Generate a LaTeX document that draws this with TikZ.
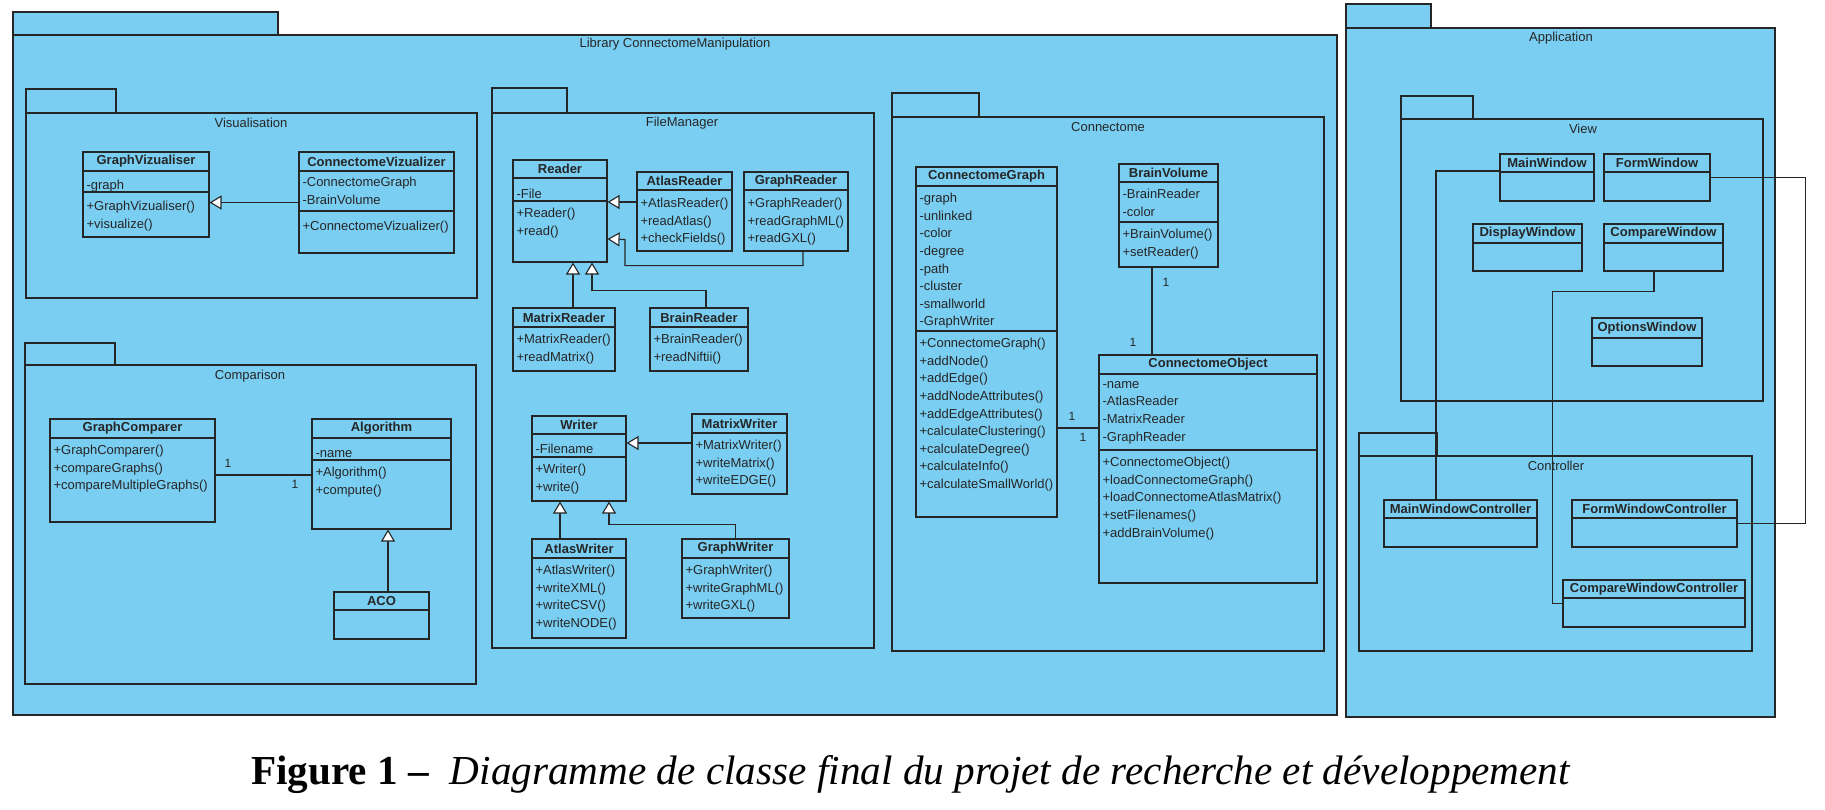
\documentclass[tikz,border=0pt]{standalone}
\usepackage{fontspec}
\usepackage{xcolor}
\usepackage{tikz}
\usetikzlibrary{arrows.meta,fit}
\newfontfamily\umlfont{Liberation Sans}
\newfontfamily\capfont{Liberation Serif}
\definecolor{pkgblue}{RGB}{122,206,242}
\definecolor{umlline}{RGB}{38,38,38}

\begin{document}
\begin{tikzpicture}[x=1pt,y=-1pt,line width=1.1pt,color=umlline,
  pkg/.style={draw,fill=pkgblue,inner sep=0pt},
  cls/.style={draw,fill=pkgblue,inner sep=0pt},
  ttl/.style={inner sep=0pt,font=\umlfont\bfseries\fontsize{13}{16}\selectfont},
  txt/.style={anchor=north west,align=left,inner sep=0pt,yshift=-3pt,font=\umlfont\fontsize{13}{17.6}\selectfont,execute at begin node=\strut},
  lbl/.style={inner sep=0pt,font=\umlfont\fontsize{13}{16}\selectfont},
  mult/.style={inner sep=0pt,font=\umlfont\fontsize{12}{14}\selectfont},
  inh/.style={-{Triangle[fill=white,length=12pt,width=14pt]}}]
\fill[white] (0,0) rectangle (1825,809);
\useasboundingbox (0,0) rectangle (1825,809);

\node[pkg,fit={(13,12) (278,35)}] (lib-tab) {};
\node[pkg,fit={(13,35) (1337,715)}] (lib) {};
\node[lbl] (lib-l) at (675,44) {Library ConnectomeManipulation};

\node[pkg,fit={(26,89) (116,113)}] (vis-tab) {};
\node[pkg,fit={(26,113) (477,298)}] (vis) {};
\node[lbl] (vis-l) at (251,123) {Visualisation};
\node[cls,fit={(83,152) (209,237)}] (gviz) {};
\draw (83,171) -- (209,171) (83,192) -- (209,192);
\node[ttl] (gviz-t) at (146,161.5) {GraphVizualiser};
\node[txt] (gviz-a) at (86,173.5) {-graph};
\node[txt] (gviz-m) at (86,198) {+GraphVizualiser()\\+visualize()};
\node[cls,fit={(299,152) (454,253)}] (cviz) {};
\draw (299,171) -- (454,171) (299,211) -- (454,211);
\node[ttl] (cviz-t) at (376.5,161.5) {ConnectomeVizualizer};
\node[txt] (cviz-a) at (302,173.5) {-ConnectomeGraph\\-BrainVolume};
\node[txt] (cviz-m) at (302,214.7) {+ConnectomeVizualizer()};
\draw[inh] (cviz.west) -- (gviz.east |- cviz.west);

\node[pkg,fit={(25,343) (115,365)}] (cmp-tab) {};
\node[pkg,fit={(25,365) (476,684)}] (cmp) {};
\node[lbl] (cmp-l) at (250,376) {Comparison};
\node[cls,fit={(50,419) (215,522)}] (gcomp) {};
\draw (50,438) -- (215,438);
\node[ttl] (gcomp-t) at (132.5,428.5) {GraphComparer};
\node[txt] (gcomp-m) at (53,441.7) {+GraphComparer()\\+compareGraphs()\\+compareMultipleGraphs()};
\node[cls,fit={(312,419) (451,529)}] (algo) {};
\draw (312,438) -- (451,438) (312,460) -- (451,460);
\node[ttl] (algo-t) at (381.5,428.5) {Algorithm};
\node[txt] (algo-a) at (315,441.7) {-name};
\node[txt] (algo-m) at (315,463.7) {+Algorithm()\\+compute()};
\node[cls,fit={(334,592) (429,639)}] (aco) {};
\draw (334,610) -- (429,610);
\node[ttl] (aco-t) at (381.5,601) {ACO};
\draw ([yshift=-4.5pt]gcomp.east) -- ([yshift=-4.5pt]gcomp.east -| algo.west);
\node[mult] (m1) at (228,463) {1};
\node[mult] (m2) at (295,484) {1};
\draw[inh] ([xshift=6.5pt]aco.north) -- ([xshift=6.5pt]aco.north |- algo.south);

\node[pkg,fit={(492,88) (567,113)}] (fm-tab) {};
\node[pkg,fit={(492,113) (874,648)}] (fm) {};
\node[lbl] (fm-l) at (682,123) {FileManager};
\node[cls,fit={(513,160) (607,262)}] (reader) {};
\draw (513,178) -- (607,178) (513,201) -- (607,201);
\node[ttl] (reader-t) at (560,169) {Reader};
\node[txt] (reader-a) at (516,182.7) {-File};
\node[txt] (reader-m) at (516,204.7) {+Reader()\\+read()};
\node[cls,fit={(637,172) (732,251)}] (areader) {};
\draw (637,190) -- (732,190);
\node[ttl] (areader-t) at (684.5,181) {AtlasReader};
\node[txt] (areader-m) at (640,194.7) {+AtlasReader()\\+readAtlas()\\+checkFields()};
\node[cls,fit={(744,172) (848,251)}] (greader) {};
\draw (744,190) -- (848,190);
\node[ttl] (greader-t) at (796,181) {GraphReader};
\node[txt] (greader-m) at (747,194.7) {+GraphReader()\\+readGraphML()\\+readGXL()};
\node[cls,fit={(513,308) (615,371)}] (mreader) {};
\draw (513,327) -- (615,327);
\node[ttl] (mreader-t) at (564,317.5) {MatrixReader};
\node[txt] (mreader-m) at (516,330.7) {+MatrixReader()\\+readMatrix()};
\node[cls,fit={(650,308) (748,371)}] (breader) {};
\draw (650,327) -- (748,327);
\node[ttl] (breader-t) at (699,317.5) {BrainReader};
\node[txt] (breader-m) at (653,330.7) {+BrainReader()\\+readNiftii()};
\draw[inh] ([yshift=9.5pt]areader.west) -- ([yshift=9.5pt]areader.west -| reader.east);
\draw[inh] ([xshift=7pt]greader.south) -- ++(0,14) -| ++(-178,-26) -- ([yshift=-28pt]reader.east);
\draw[inh] ([xshift=9pt]mreader.north) -- ([xshift=9pt]mreader.north |- reader.south);
\draw[inh] ([xshift=7pt]breader.north) -- ++(0,-17) -| ([xshift=32pt]reader.south);

\node[cls,fit={(532,416) (626,501)}] (writer) {};
\draw (532,434) -- (626,434) (532,457) -- (626,457);
\node[ttl] (writer-t) at (579,425) {Writer};
\node[txt] (writer-a) at (535,437.7) {-Filename};
\node[txt] (writer-m) at (535,460.7) {+Writer()\\+write()};
\node[cls,fit={(692,414) (787,494)}] (mwriter) {};
\draw (692,433) -- (787,433);
\node[ttl] (mwriter-t) at (739.5,423.5) {MatrixWriter};
\node[txt] (mwriter-m) at (695,436.7) {+MatrixWriter()\\+writeMatrix()\\+writeEDGE()};
\node[cls,fit={(532,539) (626,638)}] (awriter) {};
\draw (532,558) -- (626,558);
\node[ttl] (awriter-t) at (579,548.5) {AtlasWriter};
\node[txt] (awriter-m) at (535,561.7) {+AtlasWriter()\\+writeXML()\\+writeCSV()\\+writeNODE()};
\node[cls,fit={(682,539) (789,618)}] (gwriter) {};
\draw (682,558) -- (789,558);
\node[ttl] (gwriter-t) at (735.5,548.5) {GraphWriter};
\node[txt] (gwriter-m) at (685,561.7) {+GraphWriter()\\+writeGraphML()\\+writeGXL()};
\draw[inh] ([yshift=11pt]mwriter.west) -- ([yshift=11pt]mwriter.west -| writer.east);
\draw[inh] ([xshift=-19pt]awriter.north) -- ([xshift=-19pt]awriter.north |- writer.south);
\draw[inh] (gwriter.north) -- ++(0,-14) -| ([xshift=30pt]writer.south);

\node[pkg,fit={(892,93) (979,117)}] (con-tab) {};
\node[pkg,fit={(892,117) (1324,651)}] (con) {};
\node[lbl] (con-l) at (1108,127) {Connectome};
\node[cls,fit={(916,167) (1057,517)}] (cgraph) {};
\draw (916,186) -- (1057,186) (916,331) -- (1057,331);
\node[ttl] (cgraph-t) at (986.5,176.5) {ConnectomeGraph};
\node[txt] (cgraph-a) at (919,189.7) {-graph\\-unlinked\\-color\\-degree\\-path\\-cluster\\-smallworld\\-GraphWriter};
\node[txt] (cgraph-m) at (919,334.7) {+ConnectomeGraph()\\+addNode()\\+addEdge()\\+addNodeAttributes()\\+addEdgeAttributes()\\+calculateClustering()\\+calculateDegree()\\+calculateInfo()\\+calculateSmallWorld()};
\node[cls,fit={(1119,164) (1218,267)}] (bvol) {};
\draw (1119,182) -- (1218,182) (1119,222) -- (1218,222);
\node[ttl] (bvol-t) at (1168.5,173) {BrainVolume};
\node[txt] (bvol-a) at (1122,185.7) {-BrainReader\\-color};
\node[txt] (bvol-m) at (1122,225.7) {+BrainVolume()\\+setReader()};
\node[cls,fit={(1099,355) (1317,583)}] (cobj) {};
\draw (1099,374) -- (1317,374) (1099,450) -- (1317,450);
\node[ttl] (cobj-t) at (1208,364.5) {ConnectomeObject};
\node[txt] (cobj-a) at (1102,377.7) {-name\\-AtlasReader\\-MatrixReader\\-GraphReader};
\node[txt] (cobj-m) at (1102,453.7) {+ConnectomeObject()\\+loadConnectomeGraph()\\+loadConnectomeAtlasMatrix()\\+setFilenames()\\+addBrainVolume()};
\draw ([xshift=-16.5pt]bvol.south) -- ([xshift=-16.5pt]bvol.south |- cobj.north);
\node[mult] (m3) at (1166,282) {1};
\node[mult] (m4) at (1133,342) {1};
\draw ([yshift=-86pt]cgraph.east) -- ([yshift=-86pt]cgraph.east -| cobj.west);
\node[mult] (m5) at (1072,416) {1};
\node[mult] (m6) at (1083,437) {1};

\node[pkg,fit={(1346,4) (1431,28)}] (app-tab) {};
\node[pkg,fit={(1346,28) (1775,717)}] (app) {};
\node[lbl] (app-l) at (1561,38) {Application};
\node[pkg,fit={(1401,96) (1473,119)}] (view-tab) {};
\node[pkg,fit={(1401,119) (1763,401)}] (view) {};
\node[lbl] (view-l) at (1583,129) {View};
\node[cls,fit={(1500,154) (1594,201)}] (mainw) {};
\draw (1500,172) -- (1594,172);
\node[ttl] (mainw-t) at (1547,163) {MainWindow};
\node[cls,fit={(1604,154) (1710,201)}] (formw) {};
\draw (1604,172) -- (1710,172);
\node[ttl] (formw-t) at (1657,163) {FormWindow};
\node[cls,fit={(1473,224) (1582,271)}] (dispw) {};
\draw (1473,243) -- (1582,243);
\node[ttl] (dispw-t) at (1527.5,233.5) {DisplayWindow};
\node[cls,fit={(1604,224) (1723,271)}] (compw) {};
\draw (1604,243) -- (1723,243);
\node[ttl] (compw-t) at (1663.5,233.5) {CompareWindow};
\node[cls,fit={(1592,318) (1702,366)}] (optw) {};
\draw (1592,338) -- (1702,338);
\node[ttl] (optw-t) at (1647,328) {OptionsWindow};

\node[pkg,fit={(1359,433) (1437,456)}] (ctl-tab) {};
\node[pkg,fit={(1359,456) (1752,651)}] (ctl) {};
\node[lbl] (ctl-l) at (1556,466) {Controller};
\node[cls,fit={(1384,500) (1537,547)}] (mainc) {};
\draw (1384,518) -- (1537,518);
\node[ttl] (mainc-t) at (1460.5,509) {MainWindowController};
\node[cls,fit={(1572,500) (1737,547)}] (formc) {};
\draw (1572,518) -- (1737,518);
\node[ttl] (formc-t) at (1654.5,509) {FormWindowController};
\node[cls,fit={(1563,580) (1745,627)}] (compc) {};
\draw (1563,598) -- (1745,598);
\node[ttl] (compc-t) at (1654,589) {CompareWindowController};

\draw ([yshift=6.5pt]mainw.west) -| ([xshift=-24.5pt]mainc.north);
\draw (formw.east) -- ++(95,0) |- (formc.east);
\draw ([xshift=-9.5pt]compw.south) -- ++(0,20) -| ([xshift=-10pt]compc.west) -- (compc.west);

\node[font=\capfont\fontsize{41.2}{50}\selectfont,text=black] (caption) at (911,775) {\textbf{Figure 1 –}\enspace\textit{Diagramme de classe final du projet de recherche et développement}};
\end{tikzpicture}
\end{document}
